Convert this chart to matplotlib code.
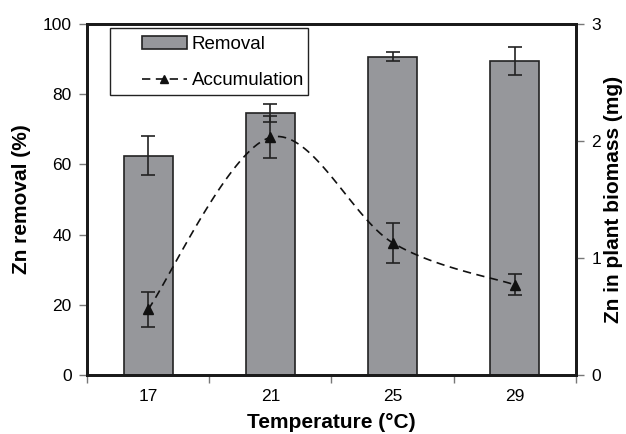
import numpy as np
import matplotlib
matplotlib.use("Agg")
import matplotlib.pyplot as plt
from matplotlib.patches import Rectangle

plt.rcParams['font.family'] = ['Liberation Sans', 'DejaVu Sans']

temps = ['17', '21', '25', '29']
removal = [62.5, 74.6, 90.6, 89.4]
removal_err = [5.5, 2.6, 1.3, 4.0]
accum = [0.56, 2.03, 1.13, 0.77]
accum_err = [0.15, 0.18, 0.17, 0.09]


def smooth(x, y, n=40):
    # Excel-like smoothed line (Catmull-Rom / cardinal spline)
    x = np.asarray(x, float)
    y = np.asarray(y, float)
    px = np.concatenate([[x[0]], x, [x[-1]]])
    py = np.concatenate([[y[0]], y, [y[-1]]])
    xs, ys = [], []
    t = np.linspace(0, 1, n)
    for i in range(1, len(px) - 2):
        p0, p1, p2, p3 = (np.array([px[j], py[j]]) for j in range(i - 1, i + 3))
        c1 = p1 + (p2 - p0) / 6
        c2 = p2 - (p3 - p1) / 6
        b = ((1 - t) ** 3)[:, None] * p1 + (3 * (1 - t) ** 2 * t)[:, None] * c1 \
            + (3 * (1 - t) * t ** 2)[:, None] * c2 + (t ** 3)[:, None] * p2
        xs.extend(b[:, 0])
        ys.extend(b[:, 1])
    return np.array(xs), np.array(ys)


dash = (0, (5, 3.3))
fig = plt.figure(figsize=(6.26, 4.34), dpi=100)
ax = fig.add_axes([0.139, 0.136, 0.781, 0.809])
x = np.arange(len(temps))

bars = ax.bar(x, removal, width=0.4, color='#96979b', edgecolor='#222222',
              linewidth=1.2, label='Removal', zorder=2)
ax.errorbar(x, removal, yerr=removal_err, fmt='none', ecolor='#222222',
            elinewidth=1.2, capsize=5, capthick=1.2, zorder=3)
ax.set_xlim(-0.5, 3.5)
ax.set_ylim(0, 100)
ax.set_yticks(range(0, 101, 20))
ax.set_xticks(x)
ax.set_xticklabels(temps)
ax.set_xticks(np.arange(-0.5, 3.6, 1), minor=True)
ax.tick_params(axis='x', which='major', length=0, pad=10)
ax.tick_params(axis='x', which='minor', length=6, width=1, color='#777777')
ax.tick_params(axis='y', length=6, width=1, color='#777777', pad=5)
ax.tick_params(labelsize=12.5)
for s in ax.spines.values():
    s.set_linewidth(2)
    s.set_color('#1a1a1a')
ax.set_xlabel('Temperature (°C)', fontsize=15, fontweight='bold')
ax.set_ylabel('Zn removal (%)', fontsize=15, fontweight='bold')
ax.xaxis.set_label_coords(0.5, -0.108)
ax.yaxis.set_label_coords(-0.115, 0.5)

ax2 = ax.twinx()
sx, sy = smooth(x, accum)
ax2.plot(sx, sy, color='#111111', linestyle=dash, linewidth=1.2, zorder=3)
ax2.errorbar(x, accum, yerr=accum_err, fmt='none', ecolor='#222222',
             elinewidth=1.2, capsize=5, capthick=1.2, zorder=4)
ax2.plot(x, accum, linestyle='none', marker='^', color='#111111',
         markersize=7, zorder=5)
ax2.set_ylim(0, 3)
ax2.set_yticks([0, 1, 2, 3])
ax2.tick_params(axis='y', length=6, width=1, color='#777777', labelsize=12.5,
                pad=5)
for s in ax2.spines.values():
    s.set_linewidth(2)
    s.set_color('#1a1a1a')
ax2.set_ylabel('Zn in plant biomass (mg)', fontsize=15, fontweight='bold')
ax2.yaxis.set_label_coords(1.057, 0.5)

acc_handle, = ax2.plot([], [], color='#111111', linestyle=dash,
                       linewidth=1.2, marker='^', markersize=6)
leg = ax2.legend([bars, acc_handle], ['Removal', 'Accumulation'],
                 loc='upper left', bbox_to_anchor=(0.112, 0.965),
                 fontsize=13.5, frameon=False,
                 handlelength=2.4, handletextpad=0.27, borderpad=0,
                 labelspacing=1.0, borderaxespad=0)
leg.set_zorder(10)
ax2.add_patch(Rectangle((0.047, 0.798), 0.405, 0.191, transform=ax2.transAxes,
                        facecolor='white', edgecolor='#222222', linewidth=1,
                        zorder=9))

fig.savefig('out.png', dpi=100)
